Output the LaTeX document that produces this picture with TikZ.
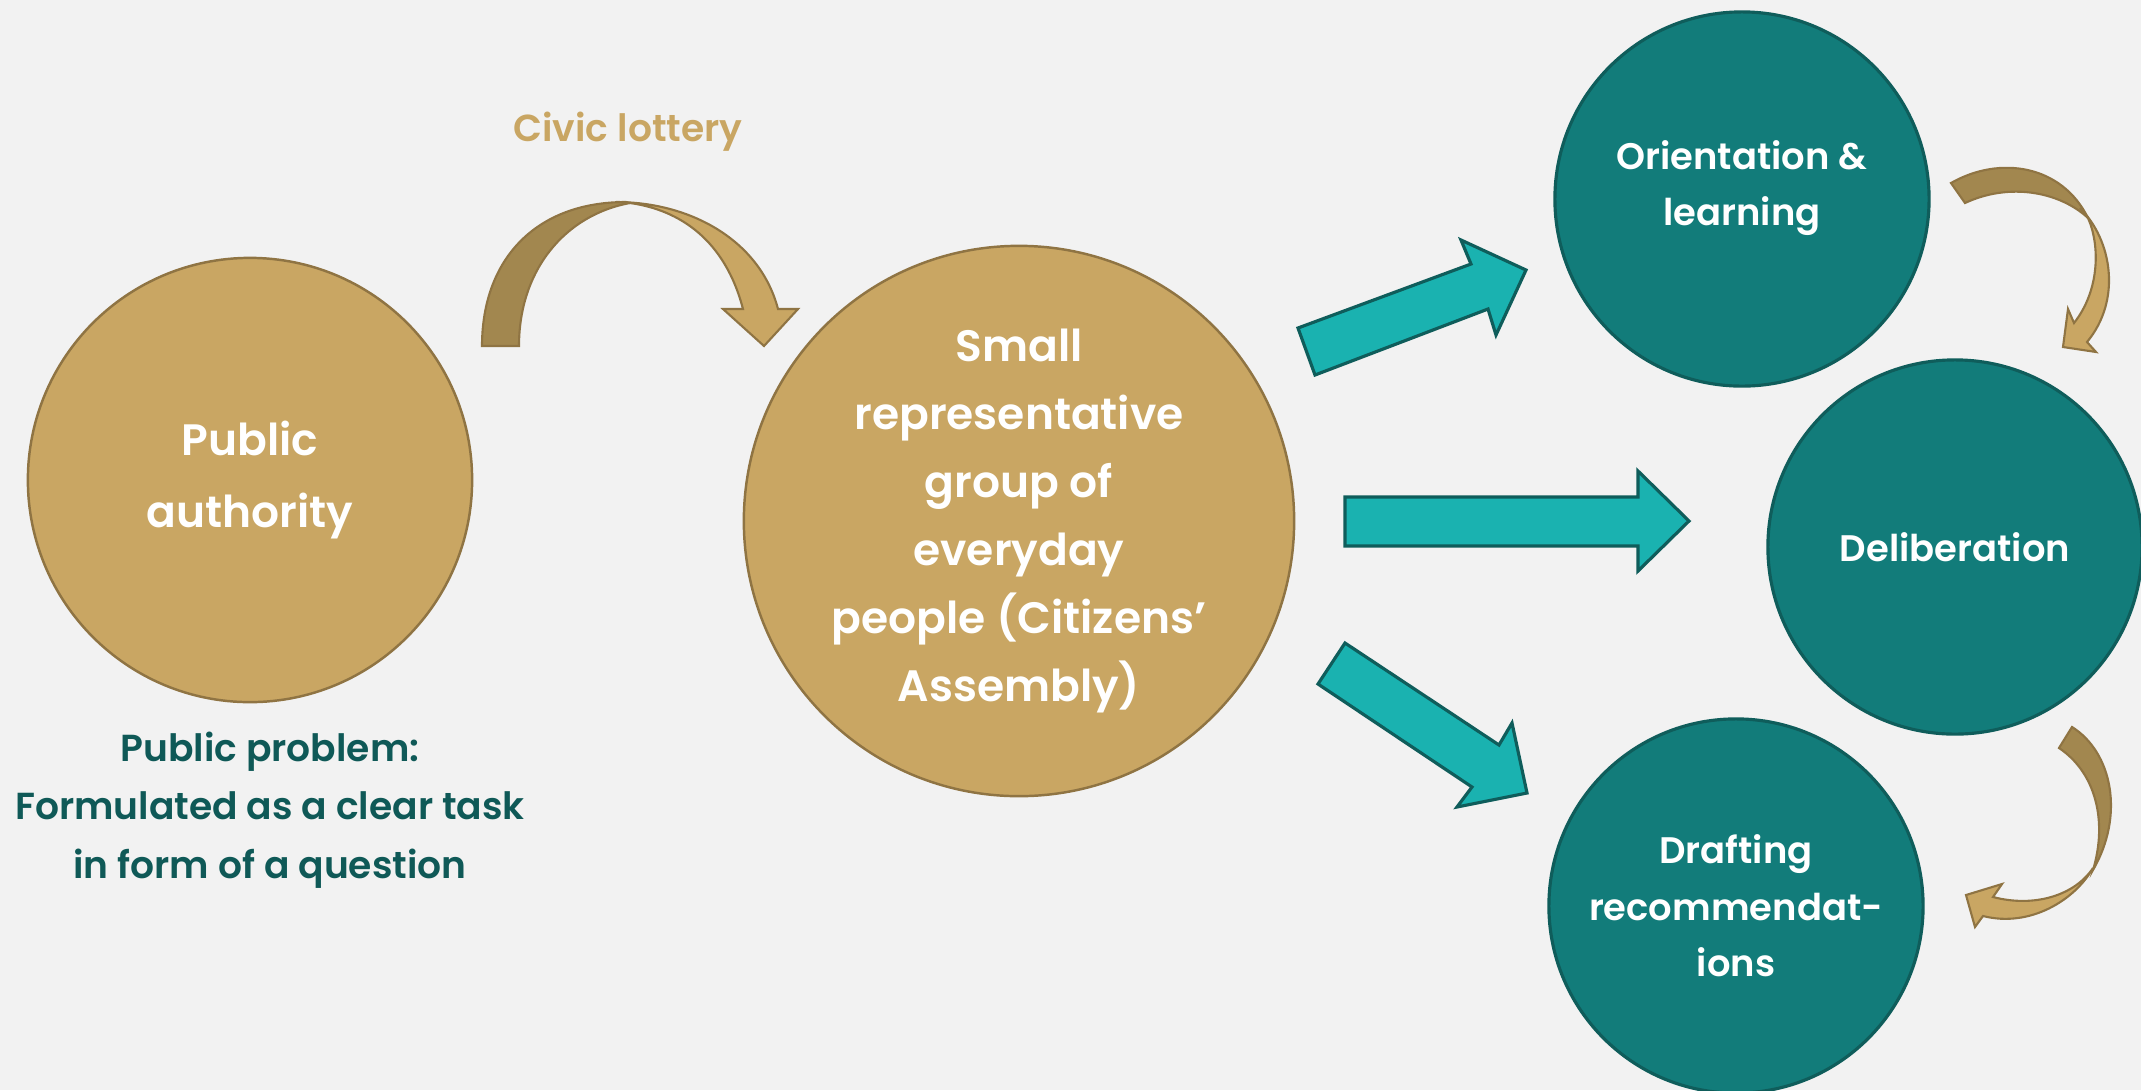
\documentclass[tikz,border=0pt]{standalone}
\usepackage{fontspec}
\setmainfont{Poppins}[BoldFont={Poppins SemiBold}]
\usetikzlibrary{positioning}

\definecolor{bgcol}{HTML}{F2F2F2}
\definecolor{goldfill}{HTML}{C9A663}
\definecolor{goldline}{HTML}{8F7443}
\definecolor{golddark}{HTML}{A2874F}
\definecolor{tealfill}{HTML}{127C7A}
\definecolor{tealline}{HTML}{0F5D5B}
\definecolor{cyanfill}{HTML}{1AB2B0}
\definecolor{tealtext}{HTML}{0F5957}

\begin{document}
\begin{tikzpicture}[x=0.01cm,y=-0.01cm,
  gold node/.style={circle,draw=goldline,fill=goldfill,line width=0.7pt,inner sep=0pt,text=white,align=center,font=\bfseries\fontsize{12.5}{19.3}\selectfont},
  teal node/.style={circle,draw=tealline,fill=tealfill,line width=0.9pt,inner sep=0pt,minimum size=3.74cm,text=white,align=center,font=\bfseries\fontsize{10.5}{16.1}\selectfont},
  block arrow/.style={draw=tealline,fill=cyanfill,line width=0.9pt,line join=miter},
  bent arrow/.style={draw=goldline,line width=0.6pt,line join=miter}]
\fill[bgcol] (0,0) rectangle (2141,1090);
\useasboundingbox (0,0) rectangle (2141,1090);

\node[gold node,minimum size=4.44cm,font=\bfseries\fontsize{12.5}{20.5}\selectfont] (pa) at (250,480) {Public\\authority};
\node[gold node,minimum size=5.5cm] (ca) at (1019,521) {Small\\representative\\group of\\everyday\\people (Citizens'\\Assembly)};
\node[teal node] (ol) at (1742,199) {Orientation \&\\learning\\[-0.25cm]};
\node[teal node] (de) at (1955,547) {Deliberation};
\node[teal node] (dr) at (1736,906) {Drafting\\recommendat-\\ions};

\node[text=tealtext,align=center,font=\bfseries\fontsize{10.7}{16.6}\selectfont] (pp) at (270,810) {Public problem:\\Formulated as a clear task\\in form of a question};
\node[text=goldfill,font=\bfseries\fontsize{10.7}{16}\selectfont] (cl) at (628,132) {Civic lottery};

% civic lottery arrow
\draw[bent arrow,fill=golddark] (482,346) .. controls (482,260) and (535,202) .. (626,202)
  -- (630,203) .. controls (565,215) and (519,270) .. (519,346) -- cycle;
\draw[bent arrow,fill=goldfill] (616,202) .. controls (690,202) and (760,240) .. (778,309)
  -- (798,309) -- (764,346) -- (723,309) -- (743,309)
  .. controls (725,240) and (680,210) .. (630,203) -- cycle;

% block arrows
\draw[block arrow] (1315,375) -- (1298,328) -- (1471,264) -- (1461,240) -- (1526,270) -- (1496,335) -- (1488,309) -- cycle;
\draw[block arrow] (1345,546) -- (1345,497) -- (1638,497) -- (1638,471) -- (1689,521) -- (1638,571) -- (1638,546) -- cycle;
\draw[block arrow] (1345,643) -- (1318,684) -- (1472,787) -- (1457,807) -- (1527,793) -- (1512,723) -- (1499,745) -- cycle;

% loop arrows on the right
\draw[bent arrow,fill=golddark] (1951,183) .. controls (2000,155) and (2062,165) .. (2088,218)
  .. controls (2060,192) and (2010,182) .. (1965,203) -- cycle;
\draw[bent arrow,fill=goldfill] (2080,208) .. controls (2112,240) and (2122,300) .. (2087,342)
  -- (2096,352) -- (2063,347) -- (2068,309) -- (2074,323)
  .. controls (2100,290) and (2100,245) .. (2088,218) -- cycle;
\draw[bent arrow,fill=golddark] (2072,727) .. controls (2112,752) and (2125,815) .. (2093,870)
  .. controls (2108,820) and (2095,772) .. (2059,748) -- cycle;
\draw[bent arrow,fill=goldfill] (2093,868) .. controls (2075,900) and (2030,928) .. (1983,916)
  -- (1975,927) -- (1966,895) -- (2002,884) -- (1993,897)
  .. controls (2035,908) and (2075,895) .. (2093,868) -- cycle;
\end{tikzpicture}
\end{document}
